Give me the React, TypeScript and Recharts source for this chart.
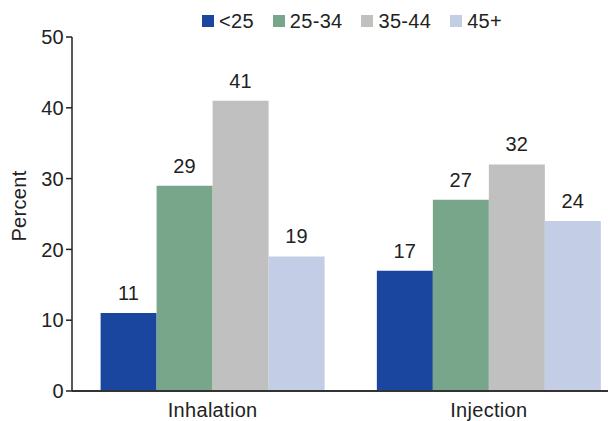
import React from 'react';
import { BarChart, Bar, XAxis, YAxis, LabelList, Label } from 'recharts';

const categories = ['Inhalation', 'Injection'];
const under25 = [11, 17];
const age25to34 = [29, 27];
const age35to44 = [41, 32];
const age45plus = [19, 24];
const seriesNames = ['<25', '25-34', '35-44', '45+'];
const seriesKeys = ['s0', 's1', 's2', 's3'];
const seriesColors = ['#1a46a0', '#77a68b', '#c0c0c0', '#c3cde6'];
const yTicks = [0, 10, 20, 30, 40, 50];

const seriesValues = [under25, age25to34, age35to44, age45plus];
const data = categories.map((c, i) => {
  const row: Record<string, string | number> = { name: c };
  seriesKeys.forEach((k, j) => {
    row[k] = seriesValues[j][i];
  });
  return row;
});

const FONT = '"Liberation Sans", Arial, Helvetica, sans-serif';
const textStyle = { fontFamily: FONT, fontSize: 20, fill: '#222', letterSpacing: 0.3 };

export default function App() {
  return (
    <div
      style={{
        position: 'absolute',
        left: 0,
        top: 0,
        width: 608,
        height: 421,
        overflow: 'hidden',
        background: '#fff',
        fontFamily: FONT,
      }}
    >
      <div
        style={{
          position: 'absolute',
          left: 202,
          top: 9,
          height: 24,
          display: 'flex',
          alignItems: 'center',
          gap: 19,
          whiteSpace: 'nowrap',
        }}
      >
        {seriesNames.map((n, i) => (
          <div key={n} style={{ display: 'flex', alignItems: 'center' }}>
            <div style={{ width: 12, height: 12, background: seriesColors[i], marginRight: 5 }} />
            <span style={{ fontSize: 20, color: '#222', letterSpacing: 0.3, lineHeight: '24px' }}>{n}</span>
          </div>
        ))}
      </div>
      <div style={{ position: 'absolute', left: 0, top: 0 }}>
        <BarChart
          width={640}
          height={421}
          data={data}
          margin={{ top: 37, right: 13, bottom: 0, left: 0 }}
          barCategoryGap="9.45%"
          barGap={0}
        >
          <XAxis
            dataKey="name"
            axisLine={{ stroke: '#333', strokeWidth: 2 }}
            tickLine={false}
            tickSize={6}
            tickMargin={6}
            height={30}
            padding={{ left: 2.5, right: 0 }}
            tick={textStyle}
            interval={0}
          />
          <YAxis
            domain={[0, 50]}
            ticks={yTicks}
            width={72}
            axisLine={{ stroke: '#222', strokeWidth: 1.5 }}
            tickLine={{ stroke: '#222', strokeWidth: 1.5 }}
            tickSize={6}
            tickMargin={2}
            tick={textStyle}
            interval={0}
          >
            <Label
              value="Percent"
              angle={-90}
              position="insideLeft"
              offset={19}
              dy={-8}
              style={{ ...textStyle, textAnchor: 'middle' }}
            />
          </YAxis>
          {seriesKeys.map((k, i) => (
            <Bar key={k} dataKey={k} name={seriesNames[i]} fill={seriesColors[i]} isAnimationActive={false}>
              <LabelList dataKey={k} position="top" offset={13} style={textStyle} />
            </Bar>
          ))}
        </BarChart>
      </div>
    </div>
  );
}
